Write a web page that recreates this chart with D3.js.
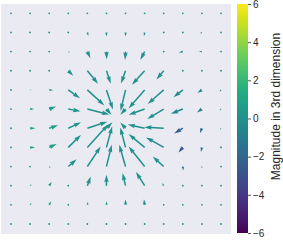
<!DOCTYPE html>
<html>
<head>
<meta charset="utf-8">
<script src="https://cdn.jsdelivr.net/npm/d3@7"></script>
<style>
  body { margin: 0; background: #fff; }
  svg { display: block; font-family: "Liberation Sans", Arial, sans-serif; }
</style>
</head>
<body>
<div id="chart"></div>
<script>
// grid positions (12 x 12)
const xs = d3.range(12);
const ys = d3.range(11, -1, -1); // top row first

// arrow components, one row per grid row (top to bottom), 1 unit = 10px
const U = [
  [0,0,0,0,0,0,0,0,0,0,0,0],
  [0,0,0,0,0.1,0,0,-0.07,0,-0.05,-0.2,0],
  [0,0,0,0.15,0.3,0.03,-0.05,-0.43,-0.05,-0.4,-0.3,-0.05],
  [0,0,0,0.5,1.07,0.43,-0.45,-1.27,-0.73,-0.05,0,-0.03],
  [0,0.15,0.4,1.17,1.7,0.65,-0.5,-1.6,-1.6,-0.93,-0.45,-0.15],
  [0.05,0.4,0.7,1.23,2.2,0.5,-0.53,-1.6,-1.65,-1.2,-0.5,-0.15],
  [0.05,0.53,0.9,1.27,2.0,0.6,-0.53,-1.7,-1.95,-0.87,-0.2,-0.1],
  [0.03,0.5,0.75,1.27,2.1,0.57,-0.53,-1.6,-1.77,-0.43,-0.1,0],
  [0,0.05,0.15,0.83,1.33,0.53,-0.63,-1.6,-1.1,0.05,0,0],
  [0,0.15,0.25,0.03,0.33,0,-0.3,-0.87,-0.17,0,0,0],
  [0,0.15,0.2,0.03,0.07,0.03,0,-0.07,0,0,0,0],
  [0,0,0,0,0,0,0,0,0,0,0,0]
];
const V = [
  [0,0,0,0,0,0,0,0,0,0,0,0],
  [0,0,0,0,-0.35,-0.4,-0.4,-0.37,-0.05,-0.05,-0.1,0],
  [0,0,0,-0.1,-0.67,-0.77,-0.83,-0.83,-0.05,-0.1,0,-0.03],
  [0,0,0,-0.5,-1.3,-1.3,-1.27,-1.4,-0.87,-0.05,-0.05,-0.05],
  [0,0,-0.03,-0.83,-1.55,-1.95,-2.1,-1.85,-1.4,-0.73,-0.3,-0.2],
  [0,0,0.25,-0.23,-0.55,-0.57,-0.57,-0.57,-1.0,-0.47,-0.35,-0.15],
  [0,0,0.3,0.6,0.65,0.6,0.57,0.37,0.1,-0.53,-0.5,-0.15],
  [0,0,0.35,1.25,2.3,2.1,2.0,1.33,1.0,-0.5,-0.45,-0.1],
  [0,0,-0.15,0.73,2.0,2.17,2.17,2.0,1.0,-0.4,-0.2,-0.05],
  [0,0.15,0.4,0,0.93,1.1,1.27,1.37,0.27,-0.05,-0.05,0],
  [0,0.2,0.35,0,0.3,0.37,0.53,0.57,0.03,0.03,0.03,0],
  [0,0,0,0,0,0,0,0,0,0,0,0]
];
// magnitude in 3rd dimension (colour)
const C = [
  [0,0,0,0,0,0,0,0,0,0,0,0],
  [0,0,0,0,0,0,0,0,0,0,-0.3,0],
  [0,0,0,0,0,0,0,0,0,-0.3,0,0],
  [0,0,0,0,0,0,0,0,0,0,0,0],
  [0,0.6,0.6,0,0,0,0,0,0,-0.2,-0.3,-0.3],
  [0,0.6,0.5,0.2,0,0,0,0,0,-0.5,-0.6,-0.5],
  [0,0.9,0.7,0.2,0,0,0,0,-0.2,-2.3,-1.8,-0.8],
  [0,0.9,0.8,0.2,0,0,0,0,-0.2,-2.8,-1.6,-0.8],
  [0,0.3,0.3,0,0,0,0,0,0,-1.5,-1,-0.5],
  [0,0.5,0.5,0,0,0,0,0,0,-0.3,-0.3,0],
  [0,0.5,0.5,0,0,0,0,0,0,0,0,0],
  [0,0,0,0,0,0,0,0,0,0,0,0]
];
const cbTicks = [6, 4, 2, 0, -2, -4, -6];
const cbLabel = "Magnitude in 3rd dimension";

const W = 283, H = 240;
const svg = d3.select("#chart").append("svg").attr("width", W).attr("height", H);

const plot = {left: 1, top: 4, right: 231, bottom: 234};
svg.append("rect")
  .attr("x", plot.left).attr("y", plot.top)
  .attr("width", plot.right - plot.left).attr("height", plot.bottom - plot.top)
  .attr("fill", "#eaeaf2");

const x = d3.scaleLinear().domain([0, 11]).range([11, 221]);
const y = d3.scaleLinear().domain([0, 11]).range([224, 13.3]);
const len = d3.scaleLinear().domain([0, 1]).range([0, 10]);
const color = d3.scaleSequential(d3.interpolateViridis).domain([-6, 6]);

// flatten grid
const pts = [];
ys.forEach((yv, r) => xs.forEach((xv, c) => {
  pts.push({x: xv, y: yv, u: U[r][c], v: V[r][c], c: C[r][c]});
}));

// matplotlib-like arrow polygon, tail at the grid point
const w = 1.5, hw = 3 * w, hl = 5 * w, hal = 4.5 * w;
function arrowPath(L) {
  let s = 1, Ld = L;
  if (L < hl) { s = L / hl; Ld = hl; }
  const p = [
    [0, -w / 2], [Ld - hal, -w / 2], [Ld - hl, -hw / 2], [Ld, 0],
    [Ld - hl, hw / 2], [Ld - hal, w / 2], [0, w / 2]
  ].map(d => [d[0] * s, d[1] * s]);
  return "M" + p.map(d => d.join(",")).join("L") + "Z";
}

const g = svg.append("g");
pts.forEach(d => {
  const dx = len(d.u), dy = -len(d.v);
  const L = Math.hypot(dx, dy);
  const px = x(d.x), py = y(d.y);
  if (L < 1.3) {
    g.append("circle").attr("cx", px).attr("cy", py).attr("r", 0.9)
      .attr("fill", color(d.c));
  } else {
    const ang = Math.atan2(dy, dx) * 180 / Math.PI;
    g.append("path")
      .attr("d", arrowPath(L))
      .attr("transform", `translate(${px},${py}) rotate(${ang})`)
      .attr("fill", color(d.c));
  }
});

// colorbar
const cb = {x: 237, w: 11, top: 4, bottom: 233};
const cy = d3.scaleLinear().domain([-6, 6]).range([cb.bottom, cb.top]);
const defs = svg.append("defs");
const grad = defs.append("linearGradient").attr("id", "vir")
  .attr("x1", 0).attr("y1", 1).attr("x2", 0).attr("y2", 0);
d3.range(0, 1.0001, 0.05).forEach(t => {
  grad.append("stop").attr("offset", t).attr("stop-color", d3.interpolateViridis(t));
});
svg.append("rect").attr("x", cb.x).attr("y", cb.top)
  .attr("width", cb.w).attr("height", cb.bottom - cb.top)
  .attr("fill", "url(#vir)");

const axis = d3.axisRight(cy).tickValues(cbTicks).tickSize(3).tickPadding(2)
  .tickFormat(d => d < 0 ? "\u2212" + Math.abs(d) : d);
const ax = svg.append("g").attr("transform", `translate(${cb.x + cb.w},0)`).call(axis);
ax.select(".domain").remove();
ax.selectAll("line").attr("stroke", "#262626").attr("stroke-width", 0.8);
ax.selectAll("text").attr("fill", "#262626").style("font-size", "10px");

svg.append("text")
  .attr("transform", `translate(276.5,${(cb.top + cb.bottom) / 2 - 12}) rotate(-90)`)
  .attr("text-anchor", "middle")
  .attr("dominant-baseline", "middle")
  .attr("fill", "#262626")
  .style("font-size", "12px")
  .text(cbLabel);
</script>
</body>
</html>
